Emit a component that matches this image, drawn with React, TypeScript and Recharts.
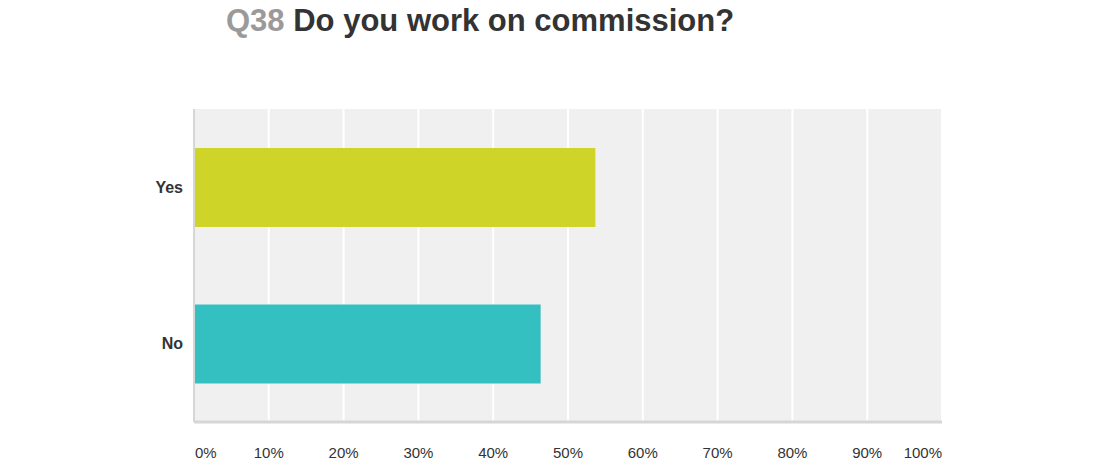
import React from 'react';
import { BarChart, Bar, XAxis, YAxis, CartesianGrid, Cell } from 'recharts';

const categories = ['Yes', 'No'];
const shares = [0.5366, 0.4634];
const barColors = ['#cfd528', '#34bfc0'];
const xTicks = [0, 0.1, 0.2, 0.3, 0.4, 0.5, 0.6, 0.7, 0.8, 0.9, 1];

const data = categories.map((c, i) => ({ name: c, value: shares[i] }));

const font = 'Liberation Sans, Arial, sans-serif';

const PercentTick = (props: any) => {
  const { x, y, payload } = props;
  const v = payload.value;
  let anchor: 'start' | 'middle' | 'end' = 'middle';
  let dx = 0;
  if (v === 0) { anchor = 'start'; dx = 1; }
  if (v === 1) { anchor = 'end'; dx = 0; }
  return (
    <text x={x + dx} y={y + 28} textAnchor={anchor} fill="#333" fontSize={15} fontFamily={font}>
      {Math.round(v * 100) + '%'}
    </text>
  );
};

export default function App() {
  return (
    <div style={{ position: 'absolute', left: 0, top: 0, width: 1100, height: 466, background: '#fff' }}>
      <div style={{ position: 'absolute', left: 226, top: 3, fontFamily: font, fontWeight: 'bold', fontSize: 31, whiteSpace: 'nowrap' }}>
        <span style={{ color: '#9a9a9a' }}>Q38</span> <span style={{ color: '#333' }}>Do you work on commission?</span>
      </div>
      <BarChart
        width={1100}
        height={466}
        data={data}
        layout="vertical"
        margin={{ top: 109, right: 158, bottom: 0, left: 134 }}
        barCategoryGap={39}
      >
        <CartesianGrid horizontal={false} stroke="#ffffff" strokeWidth={2} fill="#f0f0f0" />
        <XAxis
          type="number"
          domain={[0, 1]}
          ticks={xTicks}
          height={44}
          tick={<PercentTick />}
          tickLine={false}
          axisLine={{ stroke: '#d6d6d6', strokeWidth: 3 }}
          interval={0}
        />
        <YAxis
          type="category"
          dataKey="name"
          width={60}
          tickLine={false}
          axisLine={{ stroke: '#d6d6d6', strokeWidth: 2 }}
          tick={{ fill: '#333', fontSize: 16, fontWeight: 'bold', fontFamily: font }}
          tickMargin={5}
        />
        <Bar dataKey="value" isAnimationActive={false}>
          {data.map((d, i) => (
            <Cell key={d.name} fill={barColors[i]} />
          ))}
        </Bar>
      </BarChart>
    </div>
  );
}
